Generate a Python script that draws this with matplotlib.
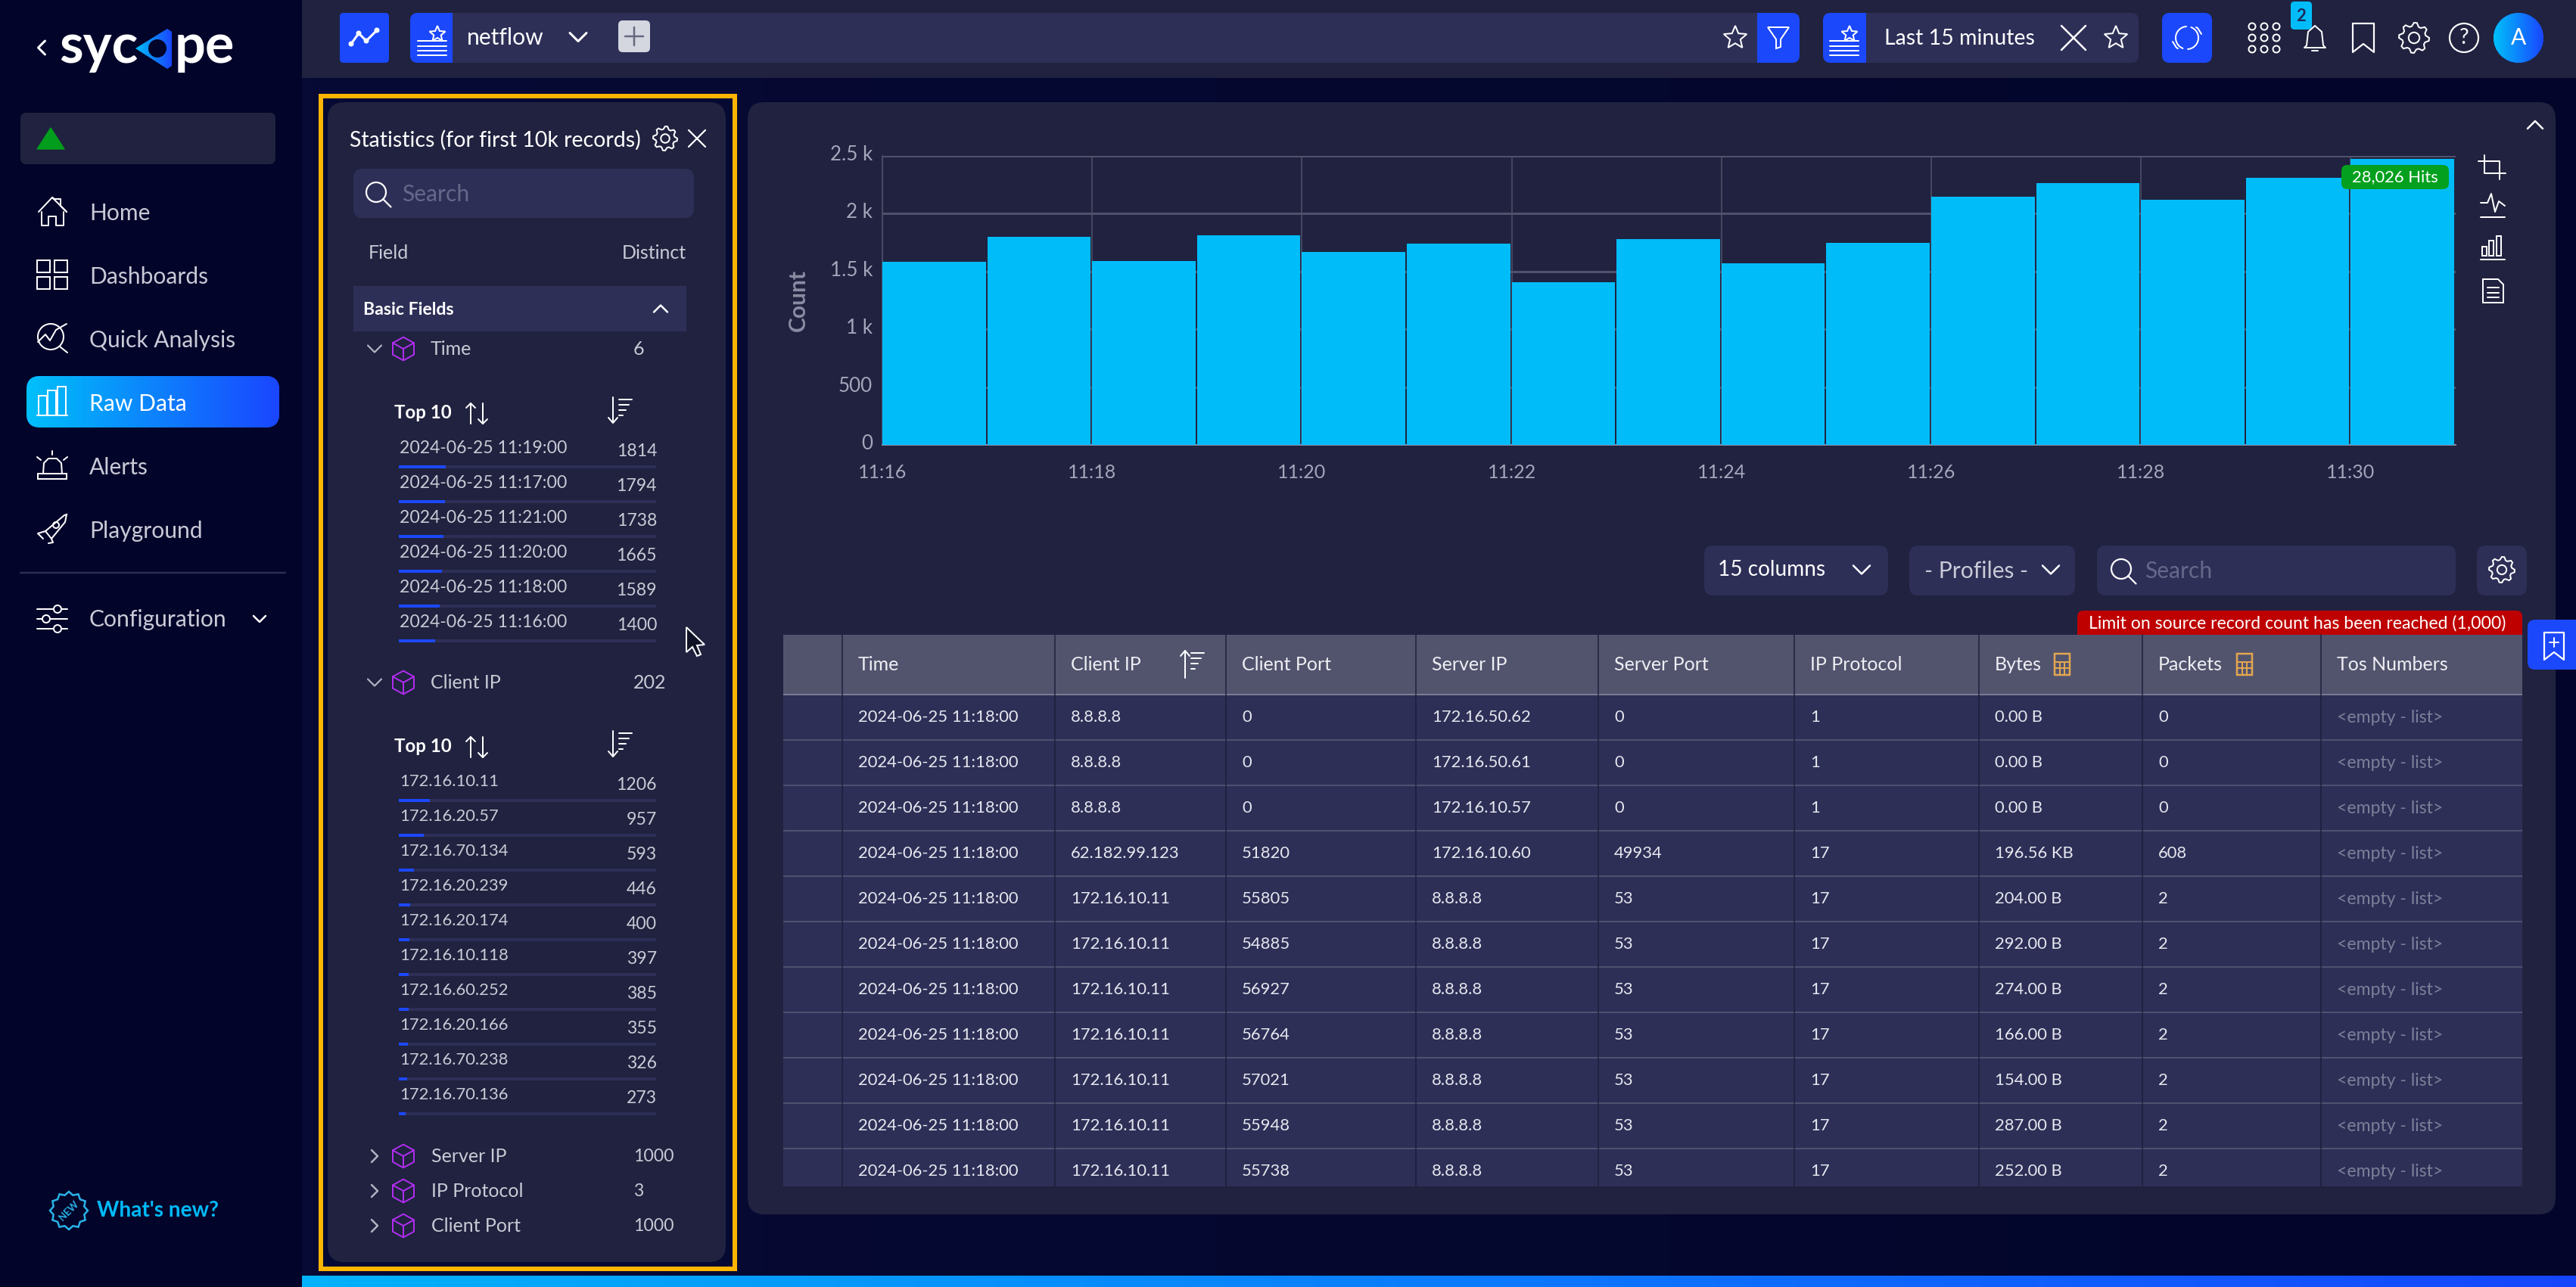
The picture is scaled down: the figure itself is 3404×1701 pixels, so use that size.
import matplotlib
matplotlib.use('Agg')
import matplotlib.pyplot as plt
import numpy as np
from matplotlib.patches import FancyBboxPatch, Polygon, Circle, Rectangle
from matplotlib.transforms import ScaledTranslation

plt.rcParams['font.family'] = ['Lato', 'DejaVu Sans']

# chart data
minute_labels = ['11:16', '11:18', '11:20', '11:22', '11:24', '11:26', '11:28', '11:30']
minute_counts = [1585, 1800, 1589, 1814, 1665, 1738, 1405, 1777, 1570, 1745, 2147, 2260, 2117, 2305, 2472]
y_ticks = [0, 500, 1000, 1500, 2000, 2500]
y_tick_labels = ['0', '500', '1 k', '1.5 k', '2 k', '2.5 k']

# statistics panel
time_names = ['2024-06-25 11:19:00', '2024-06-25 11:17:00', '2024-06-25 11:21:00',
              '2024-06-25 11:20:00', '2024-06-25 11:18:00', '2024-06-25 11:16:00']
time_values = [1814, 1794, 1738, 1665, 1589, 1400]
ip_names = ['172.16.10.11', '172.16.20.57', '172.16.70.134', '172.16.20.239', '172.16.20.174',
            '172.16.10.118', '172.16.60.252', '172.16.20.166', '172.16.70.238', '172.16.70.136']
ip_values = [1206, 957, 593, 446, 400, 397, 385, 355, 326, 273]
closed_fields = ['Server IP', 'IP Protocol', 'Client Port']
closed_distinct = ['1000', '3', '1000']

# table
col_names = ['Time', 'Client IP', 'Client Port', 'Server IP', 'Server Port', 'IP Protocol', 'Bytes', 'Packets', 'Tos Numbers']
col_time = ['2024-06-25 11:18:00'] * 11
col_client_ip = ['8.8.8.8'] * 3 + ['62.182.99.123'] + ['172.16.10.11'] * 7
col_client_port = ['0', '0', '0', '51820', '55805', '54885', '56927', '56764', '57021', '55948', '55738']
col_server_ip = ['172.16.50.62', '172.16.50.61', '172.16.10.57', '172.16.10.60'] + ['8.8.8.8'] * 7
col_server_port = ['0', '0', '0', '49934'] + ['53'] * 7
col_proto = ['1', '1', '1'] + ['17'] * 8
col_bytes = ['0.00 B', '0.00 B', '0.00 B', '196.56 KB', '204.00 B', '292.00 B', '274.00 B',
             '166.00 B', '154.00 B', '287.00 B', '252.00 B']
col_packets = ['0', '0', '0', '608'] + ['2'] * 7
col_tos = ['<empty - list>'] * 11
col_rows = [col_time, col_client_ip, col_client_port, col_server_ip, col_server_port,
            col_proto, col_bytes, col_packets, col_tos]
col_seps = [1113, 1394, 1620, 1871, 2112, 2371, 2615, 2831, 3067]

menu_items = ['Home', 'Dashboards', 'Quick Analysis', 'Raw Data', 'Alerts', 'Playground']

SIDE = '#03042a'
PANEL = '#20223f'
FIELD = '#2d2f57'
BLUE = '#1c48fb'
CYAN = '#00bdfa'
WHITE = '#ffffff'
SOFT = '#c9cad6'
PURPLE = '#b02df0'
NEWS = '#00b9f7'

fig = plt.figure(figsize=(34.05, 17.01), dpi=100, facecolor=SIDE)
ui = fig.add_axes([0, 0, 1, 1])
ui.set_xlim(0, 3405)
ui.set_ylim(1701, 0)
ui.axis('off')


def px(size):
    return size * 0.72


def box(x0, y0, x1, y1, color, r=8, z=1, **kw):
    p = FancyBboxPatch((x0 + r, y0 + r), x1 - x0 - 2 * r, y1 - y0 - 2 * r,
                       boxstyle=f'round,pad={r}', fc=color, ec='none', zorder=z, **kw)
    ui.add_patch(p)
    return p


def rect(x0, y0, x1, y1, color, z=1):
    ui.add_patch(Rectangle((x0, y0), x1 - x0, y1 - y0, fc=color, ec='none', zorder=z))


def txt(x, y, s, size=24, color=WHITE, ha='left', weight='normal', z=6, **kw):
    return ui.text(x, y, s, fontsize=px(size), color=color, ha=ha, va='center',
                   fontweight=weight, zorder=z, **kw)


def line(xs, ys, color=WHITE, lw=2, z=6):
    ui.plot(xs, ys, color=color, lw=px(lw), zorder=z, solid_capstyle='round', solid_joinstyle='round')


def gradient(patch, extent, c0='#00c0fa', c1='#1a46ff', z=2):
    rgb0 = np.array(matplotlib.colors.to_rgb(c0))
    rgb1 = np.array(matplotlib.colors.to_rgb(c1))
    t = np.linspace(0, 1, 256)[None, :, None]
    im = ui.imshow(rgb0 + (rgb1 - rgb0) * t, extent=extent, aspect='auto', zorder=z)
    if patch is not None:
        im.set_clip_path(patch)
    ui.set_xlim(0, 3405)
    ui.set_ylim(1701, 0)


def chevron(x, y, s=10, d='down', color=WHITE, lw=2.5):
    if d == 'down':
        line([x - s, x, x + s], [y - s / 2, y + s / 2, y - s / 2], color, lw)
    elif d == 'up':
        line([x - s, x, x + s], [y + s / 2, y - s / 2, y + s / 2], color, lw)
    elif d == 'right':
        line([x - s / 2, x + s / 2, x - s / 2], [y - s, y, y + s], color, lw)
    else:
        line([x + s / 2, x - s / 2, x + s / 2], [y - s, y, y + s], color, lw)


def star(x, y, r=14, color=WHITE, fc='none', lw=2):
    a = np.deg2rad(np.arange(-90, 270, 36))
    rad = np.where(np.arange(10) % 2 == 0, r, r * 0.45)
    ui.add_patch(Polygon(np.c_[x + rad * np.cos(a), y + rad * np.sin(a)], closed=True, fc=fc,
                         ec=color, lw=px(lw), zorder=7))


def gear(x, y, r=14, color=WHITE, lw=2):
    a = np.deg2rad(np.arange(0, 360, 11.25))
    rad = np.where(np.arange(32) % 4 < 2, r, r * 0.78)
    ui.add_patch(Polygon(np.c_[x + rad * np.cos(a), y + rad * np.sin(a)], closed=True, fc='none',
                         ec=color, lw=px(lw), zorder=7))
    ui.add_patch(Circle((x, y), r * 0.36, fc='none', ec=color, lw=px(lw), zorder=7))


def cross(x, y, s=10, color=WHITE, lw=2.5):
    line([x - s, x + s], [y - s, y + s], color, lw)
    line([x - s, x + s], [y + s, y - s], color, lw)


def magnifier(x, y, r=13, color=WHITE):
    ui.add_patch(Circle((x, y), r, fc='none', ec=color, lw=px(2.2), zorder=7))
    line([x + r * 0.7, x + r * 1.5], [y + r * 0.7, y + r * 1.5], color, 2.2)


def cube(x, y, s=14):
    w = s
    h = s * 0.55
    line([x - w, x, x + w, x + w, x, x - w, x - w], [y - h, y - 2 * h, y - h, y + h, y + 2 * h, y + h, y - h], PURPLE, 2)
    line([x - w, x, x + w], [y - h, y, y - h], PURPLE, 2)
    line([x, x], [y, y + 2 * h], PURPLE, 2)


def list_star(x, y):
    for dy in (2, 9, 15, 21):
        line([x - 20, x + 18], [y + dy, y + dy], WHITE, 2)
    star(x + 6, y - 7, 11)


def sort_icon(x, y, color=WHITE, up=False):
    if up:
        line([x, x], [y - 18, y + 18], color, 2)
        line([x - 6, x, x + 6], [y - 11, y - 18, y - 11], color, 2)
    else:
        line([x, x], [y - 18, y + 15], color, 2)
        line([x - 6, x, x + 6], [y + 9, y + 16, y + 9], color, 2)
    for i, ln in enumerate((17, 13, 9, 5)):
        line([x + 8, x + 8 + ln], [y - 15 + i * 7, y - 15 + i * 7], color, 2)


def calc_icon(x, y):
    c = '#e3a64f'
    ui.add_patch(Rectangle((x - 10, y - 14), 20, 28, fc='none', ec=c, lw=px(2.5), zorder=7))
    line([x - 10, x + 10], [y - 3, y - 3], c, 2)
    line([x - 10, x + 10], [y + 5, y + 5], c, 2)
    line([x - 3, x - 3], [y - 3, y + 14], c, 2)
    line([x + 3, x + 3], [y - 3, y + 14], c, 2)


def refresh_icon(x, y, r=15):
    for start, end in ((-1.2, 1.5), (1.95, 4.65)):
        t = np.linspace(start, end, 24)
        line(x + r * np.cos(t), y + r * np.sin(t), WHITE, 2)
    line([x + 12, x + r - 1, x + 19], [y - 14, y - 13, y - 5], WHITE, 2)
    line([x - 12, x - r + 1, x - 19], [y + 14, y + 13, y + 5], WHITE, 2)


# page blocks
gradient(None, (399, 3405, 1701, 0), '#070a34', '#03052a', z=-1)
rect(0, 0, 399, 1701, SIDE, 0)
rect(399, 0, 3405, 103, PANEL, 0)

# bottom bar
gradient(None, (399, 3405, 1701, 1686), '#00b2fb', '#1546ff', z=1)

# logo
chevron(55, 63, 9, 'left', WHITE, 3)
txt(78, 63, 'syc', 72, WHITE, weight='bold')
txt(231, 63, 'pe', 72, WHITE, weight='bold')
tri = Polygon([[179, 64], [221, 38], [227, 42], [227, 87], [221, 91]], closed=True, fc='none', ec='none', zorder=7)
ui.add_patch(tri)
gradient(tri, (179, 227, 91, 38), z=7)
ui.add_patch(Circle((208, 64), 12, fc=SIDE, ec='none', zorder=8))

# status box
box(27, 149, 364, 217, PANEL, 8)
ui.add_patch(Polygon([[49, 197], [67, 169], [85, 197]], closed=True, fc='#029d1d', ec='#029d1d', lw=1, zorder=3))

# menu
pill = box(35, 497, 369, 565, BLUE, 18, 1)
gradient(pill, (35, 369, 565, 497))
menu_y = [282, 366, 450, 534, 618, 702]
for name, y in zip(menu_items, menu_y):
    txt(118, y, name, 30, WHITE if name == 'Raw Data' else SOFT)

# menu icons
line([51, 69, 88, 80, 80, 72, 69], [280, 261, 280, 272, 263, 263, 261], WHITE, 2)
line([55, 55, 64, 64, 74, 74, 84, 84], [280, 298, 298, 286, 286, 298, 298, 280], WHITE, 2)
for x0, y0 in ((49, 344), (72, 344), (49, 366), (72, 366)):
    ui.add_patch(Rectangle((x0, y0), 17, 16, fc='none', ec=WHITE, lw=px(2), zorder=6))
ui.add_patch(Circle((67, 445), 17, fc='none', ec=WHITE, lw=px(2), zorder=6))
line([79, 89], [458, 466], WHITE, 2)
line([50, 60, 66, 74, 88], [452, 442, 450, 436, 428], WHITE, 2)
for x0, y0 in ((51, 523), (63, 516), (76, 511)):
    ui.add_patch(Rectangle((x0, y0), 11, 549 - y0, fc='none', ec=WHITE, lw=px(2), zorder=6))
line([49, 89], [549, 549], WHITE, 2)
line([57, 58, 64, 75, 81, 82], [626, 612, 606, 606, 612, 626], WHITE, 2)
ui.add_patch(Rectangle((50, 626), 38, 7, fc='none', ec=WHITE, lw=px(2), zorder=6))
line([49, 54], [604, 608], WHITE, 2)
line([69, 69], [596, 601], WHITE, 2)
line([89, 84], [604, 608], WHITE, 2)
ui.add_patch(Polygon([[60, 702], [85, 681], [88, 680], [86, 690], [68, 712]], closed=True, fc='none', ec=WHITE, lw=px(2), zorder=6))
ui.add_patch(Circle((74, 694), 4, fc='none', ec=WHITE, lw=px(2), zorder=6))
line([60, 50, 57], [702, 705, 712], WHITE, 2)
line([68, 70, 64], [712, 717, 718], WHITE, 2)

# configuration
line([27, 377], [757, 757], '#2c2e50', 2.5)
txt(118, 819, 'Configuration', 30, SOFT)
chevron(343, 818, 8, 'down', WHITE, 2.5)
for y, cx in ((805, 76), (818, 61), (831, 76)):
    line([49, 89], [y, y], WHITE, 2)
    ui.add_patch(Circle((cx, y), 5, fc=SIDE, ec=WHITE, lw=px(2), zorder=7))

# what's new
angles = np.deg2rad(np.arange(0, 360, 15))
spike = np.where(np.arange(24) % 2 == 0, 25, 21)
ui.add_patch(Polygon(np.c_[91 + spike * np.cos(angles), 1600 + spike * np.sin(angles)], closed=True,
                     fc='none', ec='#29b3e8', lw=px(2.5), zorder=6))
txt(91, 1600, 'NEW', 13, '#29b3e8', ha='center', weight='bold', rotation=45, rotation_mode='anchor')
txt(128, 1600, "What's new?", 28, NEWS, weight='bold')

# top bar buttons
box(449, 17, 514, 83, BLUE, 5)
line([464, 474, 484, 498], [58, 44, 54, 40], WHITE, 3)
for xc, yc in ((464, 58), (474, 44), (484, 54), (498, 40)):
    ui.add_patch(Circle((xc, yc), 3.5, fc=WHITE, ec='none', zorder=7))
box(542, 17, 2378, 83, FIELD, 10)
box(542, 17, 598, 83, BLUE, 10, 2)
rect(585, 17, 598, 83, BLUE, 2)
list_star(572, 52)
txt(617, 50, 'netflow', 30)
chevron(764, 49, 11, 'down', WHITE, 3)
box(817, 27, 859, 69, '#d4d6e0', 6)
line([838, 838], [36, 60], '#666880', 2.5)
line([826, 850], [48, 48], '#666880', 2.5)
star(2293, 50, 16)
box(2322, 17, 2378, 83, BLUE, 10, 2)
rect(2322, 17, 2340, 83, BLUE, 2)
ui.add_patch(Polygon([[2336, 36], [2364, 36], [2353, 52], [2353, 62], [2347, 64], [2347, 52]], closed=True, fc='none', ec=WHITE, lw=px(2), zorder=7))

box(2409, 17, 2826, 83, FIELD, 10)
box(2409, 17, 2466, 83, BLUE, 10, 2)
rect(2450, 17, 2466, 83, BLUE, 2)
list_star(2438, 52)
txt(2490, 51, 'Last 15 minutes', 28.5)
cross(2740, 50, 16, WHITE, 2.5)
star(2796, 50, 16)
box(2857, 17, 2923, 83, BLUE, 10, 2)
refresh_icon(2890, 50)

for yd in (35, 50, 65):
    for xd in (2976, 2992, 3008):
        ui.add_patch(Circle((xd, yd), 4.5, fc='none', ec=WHITE, lw=px(2), zorder=6))
box(3027, 2, 3055, 39, CYAN, 5, 3)
txt(3041, 21, '2', 22, '#1c2a5c', ha='center', weight='bold')
line([3048, 3050, 3059, 3068, 3070, 3073, 3045, 3048], [60, 42, 34, 42, 60, 63, 63, 60], WHITE, 2)
line([3055, 3063], [67, 67], WHITE, 2)
line([3109, 3109, 3123, 3137, 3137], [31, 69, 58, 69, 31], WHITE, 2.2)
line([3109, 3137], [31, 31], WHITE, 2.2)
gear(3190, 50, 20)
ui.add_patch(Circle((3256, 50), 19, fc='none', ec=WHITE, lw=px(2.2), zorder=6))
txt(3256, 50, '?', 28, ha='center')
av = Circle((3328, 50), 33, fc=BLUE, ec='none', zorder=2)
ui.add_patch(av)
gradient(av, (3295, 3361, 83, 17))
txt(3328, 50, 'A', 30, ha='center')

# statistics panel
ui.add_patch(Rectangle((424, 127), 547, 1550, fc='none', ec='#ffb400', lw=px(6), zorder=3))
box(433, 135, 959, 1668, PANEL, 22, 1)
txt(462, 185, 'Statistics (for first 10k records)', 28.5)
gear(879, 183, 16)
cross(921, 183, 11, WHITE, 2.2)
box(467, 223, 917, 288, FIELD, 12)
magnifier(497, 254)
txt(531, 257, 'Search', 30, '#66688a')
txt(487, 335, 'Field', 25, SOFT)
txt(907, 335, 'Distinct', 25, SOFT, ha='right')
rect(467, 378, 907, 438, FIELD, 2)
txt(480, 409, 'Basic Fields', 23, weight='bold')
chevron(873, 408, 9, 'up', WHITE, 2.5)


def open_field(y, name, distinct, names, values, name_size):
    chevron(495, y, 9, 'down', '#b0b2c4', 2.2)
    cube(533, y)
    txt(569, y, name, 25, SOFT)
    txt(837, y, distinct, 25, SOFT)
    head = y + 84
    txt(521, head, 'Top 10', 24, weight='bold')
    line([622, 622], [head - 12, head + 15], WHITE, 2)
    line([616, 622, 628], [head - 6, head - 12, head - 6], WHITE, 2)
    line([638, 638], [head - 12, head + 15], WHITE, 2)
    line([632, 638, 644], [head + 9, head + 15, head + 9], WHITE, 2)
    sort_icon(810, head - 2)
    y0 = head + 47
    for i, (n, v) in enumerate(zip(names, values)):
        yy = y0 + i * 46
        txt(528, yy, n, name_size, SOFT)
        txt(868, yy + 4, str(v), 23, SOFT, ha='right')
        rect(527, yy + 23, 867, yy + 27, FIELD, 2)
        rect(527, yy + 23, 527 + 340 * v / 10000, yy + 27, BLUE, 3)


open_field(461, 'Time', '6', time_names, time_values, 23)
open_field(902, 'Client IP', '202', ip_names, ip_values, 22)
for name, val, y in zip(closed_fields, closed_distinct, (1528, 1574, 1620)):
    chevron(495, y, 8, 'right', '#b0b2c4', 2.5)
    cube(533, y)
    txt(570, y, name, 25, SOFT)
    txt(837, y, val, 23, SOFT)

# mouse cursor
ui.add_patch(Polygon([[907, 829], [907, 862], [915, 855], [921, 867], [926, 865], [921, 853], [931, 852]],
                     closed=True, fc='#101226', ec=WHITE, lw=px(2), zorder=8))

# main panel
box(988, 135, 3377, 1605, PANEL, 22, 1)
chevron(3350, 165, 10, 'up', WHITE, 2.5)

# chart
ax = fig.add_axes([1166 / 3405, 1 - 588 / 1701, (3245 - 1166) / 3405, (588 - 205.6) / 1701], zorder=2)
ax.patch.set_alpha(0)
ax.bar(np.arange(len(minute_counts)), minute_counts, width=0.985, align='edge', color=CYAN, zorder=3)
ax.set_xlim(0, 15)
ax.set_ylim(0, 2500)
ax.set_xticks(np.arange(0, 16, 2)[:len(minute_labels)])
ax.set_xticklabels(minute_labels, fontsize=px(25), color='#a4a6bb')
ax.set_yticks(y_ticks)
ax.set_yticklabels(y_tick_labels, fontsize=px(26), color='#a4a6bb')
ax.tick_params(length=0, pad=px(25))
ax.tick_params(axis='y', pad=px(13))
lift = ScaledTranslation(0, 4 / 100, fig.dpi_scale_trans)
for lab in ax.get_yticklabels():
    lab.set_transform(lab.get_transform() + lift)
ax.grid(axis='y', color='#50526c', lw=px(3))
ax.grid(axis='x', color='#50526c', lw=px(1.5))
ax.set_axisbelow(True)
for s in ('top', 'right'):
    ax.spines[s].set_visible(False)
ax.spines['left'].set_color('#50526c')
ax.spines['left'].set_linewidth(px(1.5))
ax.spines['bottom'].set_color('#8a8ca3')
ax.spines['bottom'].set_linewidth(px(2))
ax.set_ylabel('Count', fontsize=px(30), fontweight='bold', color='#8a8ca3', labelpad=px(28))

hits = FancyBboxPatch((3102, 226), 126, 16, boxstyle='round,pad=8', fc='#02a01e', ec='none',
                      transform=ui.transData, zorder=6, clip_on=False)
ax.add_patch(hits)
ax.text(3165, 234, '28,026 Hits', transform=ui.transData, fontsize=px(22), color=WHITE, ha='center',
        va='center', zorder=7, clip_on=False)

# chart side icons
line([3283, 3283, 3311], [205, 229, 229], WHITE, 2)
line([3275, 3303, 3303], [213, 213, 237], WHITE, 2)
line([3278, 3287, 3292, 3297, 3302, 3310], [268, 268, 256, 280, 266, 272], WHITE, 2)
line([3278, 3310], [287, 287], WHITE, 2)
for xb, yb in ((3280, 326), (3289, 318), (3299, 312)):
    ui.add_patch(Rectangle((xb, yb), 6, 338 - yb, fc='none', ec=WHITE, lw=px(2), zorder=6))
line([3278, 3310], [343, 343], WHITE, 2)
ui.add_patch(Polygon([[3281, 369], [3301, 369], [3308, 376], [3308, 400], [3281, 400]], closed=True, fc='none', ec=WHITE, lw=px(2), zorder=6))
for yl in (380, 387, 393):
    line([3287, 3302], [yl, yl], WHITE, 2)

# controls
box(2252, 721, 2495, 787, FIELD, 12)
txt(2270, 753, '15 columns', 28)
chevron(2460, 753, 11, 'down', WHITE, 2.5)
box(2523, 721, 2742, 787, FIELD, 12)
txt(2543, 755, '- Profiles -', 30, SOFT)
chevron(2710, 753, 11, 'down', WHITE, 2.5)
box(2771, 721, 3245, 787, FIELD, 12)
magnifier(2803, 752)
txt(2834, 755, 'Search', 30, '#66688a')
box(3273, 721, 3339, 787, FIELD, 12)
gear(3306, 753, 17)

# source limit tag
box(2745, 807, 3333, 850, '#bf0000', 8)
txt(3036, 824, 'Limit on source record count has been reached (1,000)', 23, ha='center')

# tab on the right
box(3340, 819, 3420, 885, BLUE, 10, 3)
line([3362, 3362, 3375, 3388, 3388, 3362], [836, 872, 862, 872, 836, 836], WHITE, 2.2, 7)
line([3369, 3381], [849, 849], WHITE, 2)
line([3375, 3375], [843, 855], WHITE, 2)

# table
rect(1035, 839, 3333, 917, '#52546e', 3)
rect(1035, 917, 3333, 919, '#7a7c92', 3)
n_rows = len(col_time)
rect(1035, 919, 3333, 1568, FIELD, 3)
for i in range(n_rows):
    y = 948 + i * 60
    if i < n_rows - 1:
        rect(1035, y + 29, 3333, y + 31, '#4f5170', 4)
    for xs, rows, name in zip(col_seps, col_rows, col_names):
        c = '#7d7f98' if name == 'Tos Numbers' else '#e6e7ee'
        fs = 23 if name == 'Tos Numbers' else 22
        txt(xs + 21, y, rows[i], fs, c)
for xs, name in zip(col_seps, col_names):
    ui.plot([xs, xs], [839, 1568], color='#1d1f3c', lw=px(1.5), zorder=4)
    txt(xs + 21, 878, name, 25, '#eeeef3')
sort_icon(1566, 878, WHITE, up=True)
calc_icon(2725, 878)
calc_icon(2966, 878)

ui.set_xlim(0, 3405)
ui.set_ylim(1701, 0)
fig.savefig('out.png', dpi=100, facecolor=SIDE)
